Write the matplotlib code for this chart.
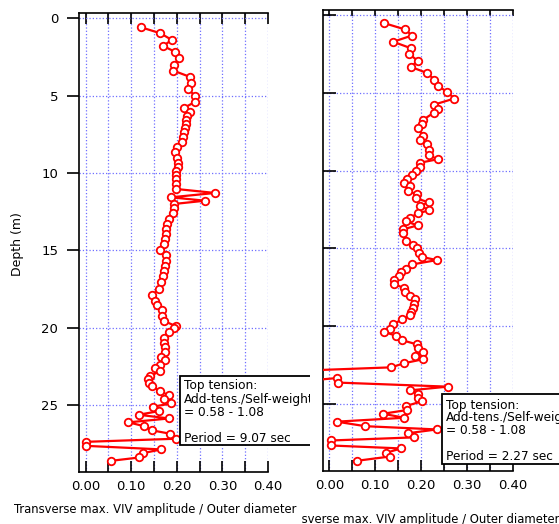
import numpy as np
import matplotlib
matplotlib.use("Agg")
import matplotlib.pyplot as plt
from matplotlib.patches import Rectangle

plt.rcParams['font.family'] = ['DejaVu Sans']

# left panel (period 9.07 sec)
left_depth = [0.58, 0.97, 1.40, 1.79, 2.18, 2.59, 3.00, 3.38, 3.79, 4.18,
              4.57, 5.00, 5.41, 5.80, 6.03, 6.29, 6.56, 6.83, 7.11, 7.37,
              7.67, 7.97, 8.32, 8.66, 9.05, 9.37, 9.63, 9.87, 10.13, 10.41,
              10.71, 11.03, 11.29, 11.57, 11.79, 12.00, 12.28, 12.56, 12.97, 13.30,
              13.60, 13.92, 14.27, 14.59, 14.96, 15.32, 15.69, 16.01, 16.33, 16.68,
              17.05, 17.50, 17.90, 18.25, 18.55, 18.84, 19.24, 19.57, 19.89, 20.04,
              20.30, 20.69, 21.01, 21.27, 21.59, 21.91, 22.11, 22.41, 22.63, 22.80,
              23.12, 23.32, 23.57, 23.77, 24.11, 24.37, 24.60, 24.89, 25.10, 25.38,
              25.62, 25.86, 26.11, 26.35, 26.63, 26.85, 27.17, 27.37, 27.63, 27.86,
              28.10, 28.38, 28.60]
left_amp = [0.121, 0.164, 0.189, 0.170, 0.197, 0.205, 0.194, 0.192, 0.229, 0.232,
            0.224, 0.240, 0.240, 0.215, 0.229, 0.222, 0.220, 0.220, 0.218, 0.216,
            0.213, 0.212, 0.200, 0.195, 0.201, 0.202, 0.202, 0.198, 0.198, 0.198,
            0.198, 0.198, 0.284, 0.187, 0.262, 0.194, 0.194, 0.192, 0.183, 0.179,
            0.177, 0.176, 0.174, 0.172, 0.164, 0.176, 0.176, 0.174, 0.172, 0.169,
            0.166, 0.160, 0.146, 0.152, 0.156, 0.168, 0.168, 0.172, 0.198, 0.194,
            0.183, 0.172, 0.172, 0.174, 0.174, 0.166, 0.174, 0.163, 0.153, 0.163,
            0.142, 0.137, 0.140, 0.145, 0.164, 0.183, 0.172, 0.188, 0.148, 0.162,
            0.116, 0.183, 0.094, 0.127, 0.146, 0.186, 0.198, 0.001, 0.001, 0.166,
            0.126, 0.118, 0.055]

# right panel (period 2.27 sec)
right_depth = [0.52, 0.93, 1.32, 1.72, 2.13, 2.52, 2.95, 3.33, 3.72, 4.15,
               4.56, 4.94, 5.37, 5.76, 6.02, 6.27, 6.74, 7.02, 7.28, 7.77,
               8.01, 8.31, 8.67, 9.02, 9.27, 9.49, 9.75, 10.00, 10.28, 10.54,
               10.78, 11.01, 11.29, 11.53, 11.76, 12.04, 12.26, 12.54, 12.75, 13.03,
               13.26, 13.52, 13.78, 14.04, 14.51, 14.77, 15.00, 15.28, 15.54, 15.75,
               16.03, 16.29, 16.52, 16.78, 17.04, 17.30, 17.54, 17.77, 18.05, 18.28,
               18.54, 18.80, 19.08, 19.29, 19.55, 19.87, 20.15, 20.37, 20.62, 20.90,
               21.16, 21.40, 21.65, 21.89, 22.12, 22.38, 22.64, 22.82, 23.45, 23.33,
               23.62, 23.88, 24.12, 24.33, 24.61, 24.83, 25.13, 25.38, 25.62, 25.88,
               26.13, 26.42, 26.63, 26.87, 27.14, 27.34, 27.66, 27.85, 28.13, 28.37,
               28.64]
right_amp = [0.119, 0.165, 0.180, 0.139, 0.177, 0.174, 0.193, 0.177, 0.212, 0.229,
             0.236, 0.257, 0.272, 0.228, 0.236, 0.228, 0.204, 0.202, 0.194, 0.204,
             0.198, 0.212, 0.217, 0.218, 0.236, 0.198, 0.197, 0.188, 0.180, 0.170,
             0.162, 0.175, 0.171, 0.190, 0.188, 0.216, 0.197, 0.218, 0.193, 0.175,
             0.167, 0.192, 0.160, 0.161, 0.167, 0.183, 0.191, 0.195, 0.201, 0.234,
             0.180, 0.168, 0.156, 0.152, 0.141, 0.141, 0.163, 0.164, 0.176, 0.187,
             0.184, 0.183, 0.178, 0.176, 0.159, 0.139, 0.133, 0.120, 0.146, 0.159,
             0.190, 0.192, 0.204, 0.187, 0.204, 0.162, 0.135, -0.03, -0.03, 0.016,
             0.019, 0.258, 0.175, 0.193, 0.194, 0.201, 0.166, 0.170, 0.117, 0.163,
             0.016, 0.078, 0.234, 0.172, 0.184, 0.003, 0.003, 0.156, 0.124, 0.132,
             0.061]

xticks = [0.0, 0.1, 0.2, 0.3, 0.4]
xminor = [0.05, 0.15, 0.25, 0.35]
yticks = [0, 5, 10, 15, 20, 25]
xlabel = "Transverse max. VIV amplitude / Outer diameter"
ylabel = "Depth (m)"
box_left = "Top tension:\nAdd-tens./Self-weight\n= 0.58 - 1.08\n\nPeriod = 9.07 sec"
box_right = "Top tension:\nAdd-tens./Self-weight\n= 0.58 - 1.08\n\nPeriod = 2.27 sec"

W, H = 559, 524


def px(x0, y0, x1, y1):
    # pixel box (top-left origin) -> figure fraction rect
    return [x0 / W, 1 - y1 / H, (x1 - x0) / W, (y1 - y0) / H]


def setup(ax, depth, amp, top_len):
    ax.plot(amp, depth, '-o', color='red', lw=1.6, ms=5.4, mfc='white',
            mec='red', mew=1.3, zorder=3)
    ax.set_xlim(-0.0145, 0.40)
    ax.set_ylim(29.3, -0.32)
    ax.set_xticks(xticks)
    ax.set_xticks(xminor, minor=True)
    ax.set_yticks(yticks)
    ax.xaxis.set_major_formatter('{x:.2f}')
    ax.grid(True, which='both', axis='x', color='#6f6fff', ls=':', lw=0.9)
    ax.grid(True, which='major', axis='y', color='#6f6fff', ls=':', lw=0.9)
    ax.tick_params(axis='x', which='both', direction='in', bottom=True, top=True,
                   length=8, width=1.2, pad=6, labelsize=9.5)
    for t in ax.xaxis.get_minor_ticks() + ax.xaxis.get_major_ticks():
        t.tick2line.set_markersize(top_len)
    ax.spines['right'].set_visible(False)
    for s in ['left', 'bottom', 'top']:
        ax.spines[s].set_linewidth(1.2)


fig = plt.figure(figsize=(W / 100, H / 100), dpi=100)

ax1 = fig.add_axes(px(79, 13.3, 268, 471.7))
setup(ax1, left_depth, left_amp, 8)
ax1.tick_params(axis='y', direction='out', length=9, width=1.2, pad=6, labelsize=9.5)

ax2 = fig.add_axes(px(322.7, 10, 513, 471))
setup(ax2, right_depth, right_amp, 4.5)
ax2.tick_params(axis='y', direction='in', length=9, width=1.2, labelleft=False)

fig.text(18 / W, 1 - 244 / H, ylabel, rotation=90, ha='center', va='center', fontsize=9)


def clipped(rect, draw):
    cax = fig.add_axes(rect)
    cax.axis('off')
    cax.set_zorder(5)
    draw(cax)
    return cax


def box_left_draw(cax):
    cax.add_patch(Rectangle((180 / W, 1 - 445 / H), 200 / W, 69 / H, transform=fig.transFigure,
                            fc='white', ec='black', lw=1.3, clip_on=True))
    cax.text(184 / W, 1 - 379.5 / H, box_left, transform=fig.transFigure, ha='left', va='top',
             fontsize=8.7, clip_on=True, linespacing=1.0)


def box_right_draw(cax):
    cax.add_patch(Rectangle((442 / W, 1 - 464 / H), 200 / W, 70 / H, transform=fig.transFigure,
                            fc='white', ec='black', lw=1.3, clip_on=True))
    cax.text(446 / W, 1 - 398.5 / H, box_right, transform=fig.transFigure, ha='left', va='top',
             fontsize=8.7, clip_on=True, linespacing=1.0)


clipped(px(170, 370, 310, 452), box_left_draw)
clipped(px(430, 385, 559, 470), box_right_draw)

fig.text(155.5 / W, 1 - 510 / H, xlabel, ha='center', va='center', fontsize=8.4)
clipped(px(302, 500, 559, 524),
        lambda cax: cax.text(418 / W, 1 - 519 / H, xlabel, transform=fig.transFigure,
                             ha='center', va='center', fontsize=8.4, clip_on=True))

fig.savefig("out.png", dpi=100)
